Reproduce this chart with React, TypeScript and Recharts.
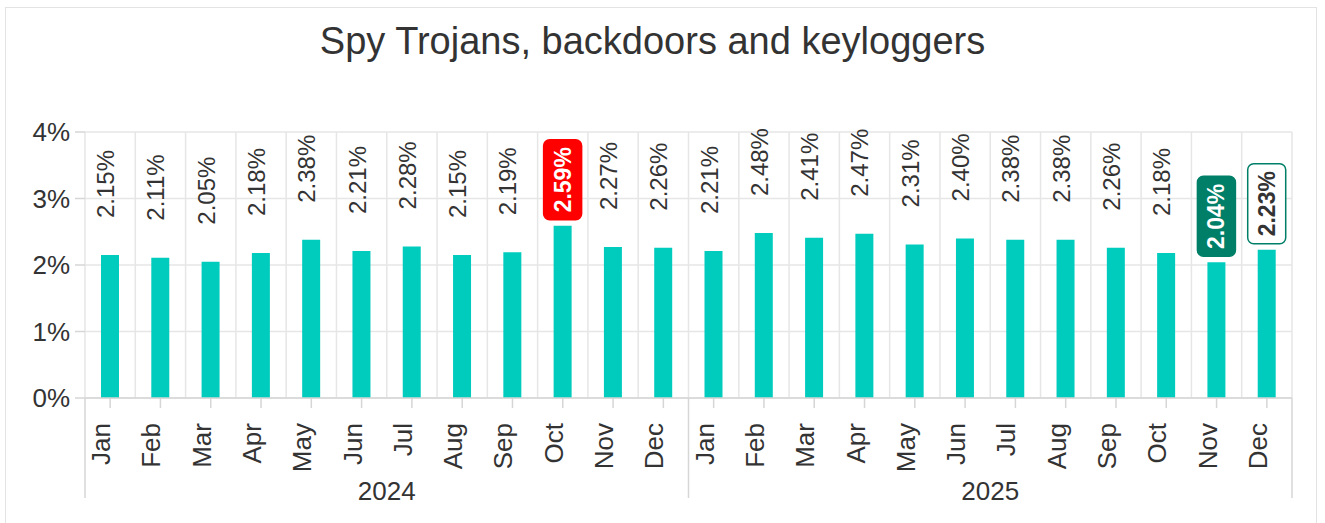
import React from 'react';
import { BarChart, Bar, XAxis, YAxis, CartesianGrid, LabelList } from 'recharts';

const title = 'Spy Trojans, backdoors and keyloggers';
const months = ['Jan', 'Feb', 'Mar', 'Apr', 'May', 'Jun', 'Jul', 'Aug', 'Sep', 'Oct', 'Nov', 'Dec'];
const years = ['2024', '2025'];
const values2024 = [2.15, 2.11, 2.05, 2.18, 2.38, 2.21, 2.28, 2.15, 2.19, 2.59, 2.27, 2.26];
const values2025 = [2.21, 2.48, 2.41, 2.47, 2.31, 2.40, 2.38, 2.38, 2.26, 2.18, 2.04, 2.23];
const yTicks = [0, 1, 2, 3, 4];

const seriesByYear = [values2024, values2025];
const data = years.flatMap((yr, yi) =>
  months.map((m, mi) => ({ key: `${m} ${yr}`, month: m, year: yr, value: seriesByYear[yi][mi] }))
);

// label highlight kinds, keyed by "Mon Year"
const highlights: Record<string, string> = {
  'Oct 2024': 'red',
  'Nov 2025': 'dark',
  'Dec 2025': 'outline',
};

const FONT = '"Liberation Sans", Arial, sans-serif';
const TEXT = '#333333';
const GRID = '#e6e6e6';
const AXIS = '#d6d6d6';
const BAR = '#00ccbe';
const RED = '#ff0000';
const DARK = '#007f68';

const renderLabel = (props: any) => {
  const { x, y, width, value, index } = props;
  const cx = Number(x) + Number(width) / 2;
  const by = Number(y);
  const text = `${Number(value).toFixed(2)}%`;
  const kind = highlights[data[index]?.key];
  if (!kind) {
    const sy = by - 37;
    return (
      <text
        x={cx}
        y={sy}
        transform={`rotate(-90 ${cx} ${sy})`}
        textAnchor="start"
        dy="0.17em"
        fontSize={24}
        fontFamily={FONT}
        fill={TEXT}
      >
        {text}
      </text>
    );
  }
  const boxW = 38;
  const boxH = 80;
  const bottom = by - 6;
  const top = bottom - boxH;
  const cy = bottom - boxH / 2;
  const fill = kind === 'red' ? RED : kind === 'dark' ? DARK : '#ffffff';
  const stroke = kind === 'outline' ? DARK : fill;
  const tcolor = kind === 'outline' ? TEXT : '#ffffff';
  return (
    <g>
      <rect x={cx - boxW / 2} y={top} width={boxW} height={boxH} rx={6} ry={6} fill={fill} stroke={stroke} strokeWidth={1.5} />
      <text
        x={cx}
        y={cy}
        transform={`rotate(-90 ${cx} ${cy})`}
        textAnchor="middle"
        dy="0.35em"
        fontSize={23}
        fontWeight="bold"
        fontFamily={FONT}
        fill={tcolor}
      >
        {text}
      </text>
    </g>
  );
};

const MonthTick = (props: any) => {
  const { x, y, payload } = props;
  const label = String(payload.value).split(' ')[0];
  return (
    <text
      x={x}
      y={y}
      transform={`rotate(-90 ${x} ${y})`}
      textAnchor="end"
      dy="0"
      fontSize={26}
      fontFamily={FONT}
      fill={TEXT}
    >
      {label}
    </text>
  );
};

const YearTick = (props: any) => {
  const { x, y, payload, width, index, visibleTicksCount } = props;
  const half = Number(width) / Number(visibleTicksCount || 2) / 2;
  const lineTop = y - 80;
  const lineBottom = y + 20;
  return (
    <g>
      <line x1={x - half} x2={x - half} y1={lineTop} y2={lineBottom} stroke={AXIS} strokeWidth={1.5} />
      {index === (visibleTicksCount || 2) - 1 && (
        <line x1={x + half} x2={x + half} y1={lineTop} y2={lineBottom} stroke={AXIS} strokeWidth={1.5} />
      )}
      <text x={x} y={y + 22} textAnchor="middle" fontSize={26} fontFamily={FONT} fill={TEXT}>
        {payload.value}
      </text>
    </g>
  );
};

const YTick = (props: any) => {
  const { x, y, payload } = props;
  return (
    <text x={x} y={y} textAnchor="end" dy="0.36em" fontSize={26} fontFamily={FONT} fill={TEXT}>
      {`${payload.value}%`}
    </text>
  );
};

export default function App() {
  return (
    <div style={{ position: 'absolute', left: 0, top: 0, width: 1325, height: 523, overflow: 'hidden', background: '#fff', fontFamily: FONT }}>
      <div
        style={{
          position: 'absolute',
          left: 5,
          top: 7,
          width: 1312,
          height: 540,
          border: '1px solid #e3e3e3',
          boxSizing: 'border-box',
        }}
      />
      <div
        style={{
          position: 'absolute',
          left: 0,
          top: 19,
          width: 1305,
          textAlign: 'center',
          fontSize: 38,
          lineHeight: '44px',
          color: TEXT,
          fontFamily: FONT,
          whiteSpace: 'nowrap',
        }}
      >
        {title}
      </div>
      <div style={{ position: 'absolute', left: 0, top: 0 }}>
        <BarChart
          width={1325}
          height={523}
          data={data}
          margin={{ top: 132, right: 33, bottom: 10, left: 25 }}
          barCategoryGap={0}
        >
          <CartesianGrid
            stroke={GRID}
            strokeWidth={1.5}
            verticalCoordinatesGenerator={({ offset }: any) =>
              Array.from({ length: data.length + 1 }, (_, i) => offset.left + (offset.width * i) / data.length)
            }
          />
          <XAxis
            dataKey="key"
            height={80}
            interval={0}
            tickSize={10}
            tickMargin={15}
            tick={<MonthTick />}
            tickLine={{ stroke: AXIS, strokeWidth: 1.5 }}
            axisLine={{ stroke: AXIS, strokeWidth: 1.5 }}
          />
          <XAxis
            xAxisId="year"
            dataKey="year"
            allowDuplicatedCategory={false}
            height={35}
            interval={0}
            tickSize={0}
            tickMargin={0}
            tickLine={false}
            axisLine={false}
            tick={<YearTick />}
          />
          <YAxis
            width={60}
            domain={[0, 4]}
            ticks={yTicks}
            interval={0}
            tickSize={10}
            tickMargin={5}
            tick={<YTick />}
            tickLine={{ stroke: AXIS, strokeWidth: 1.5 }}
            axisLine={false}
          />
          <Bar dataKey="value" fill={BAR} barSize={18} isAnimationActive={false}>
            <LabelList dataKey="value" content={renderLabel} />
          </Bar>
        </BarChart>
      </div>
    </div>
  );
}
